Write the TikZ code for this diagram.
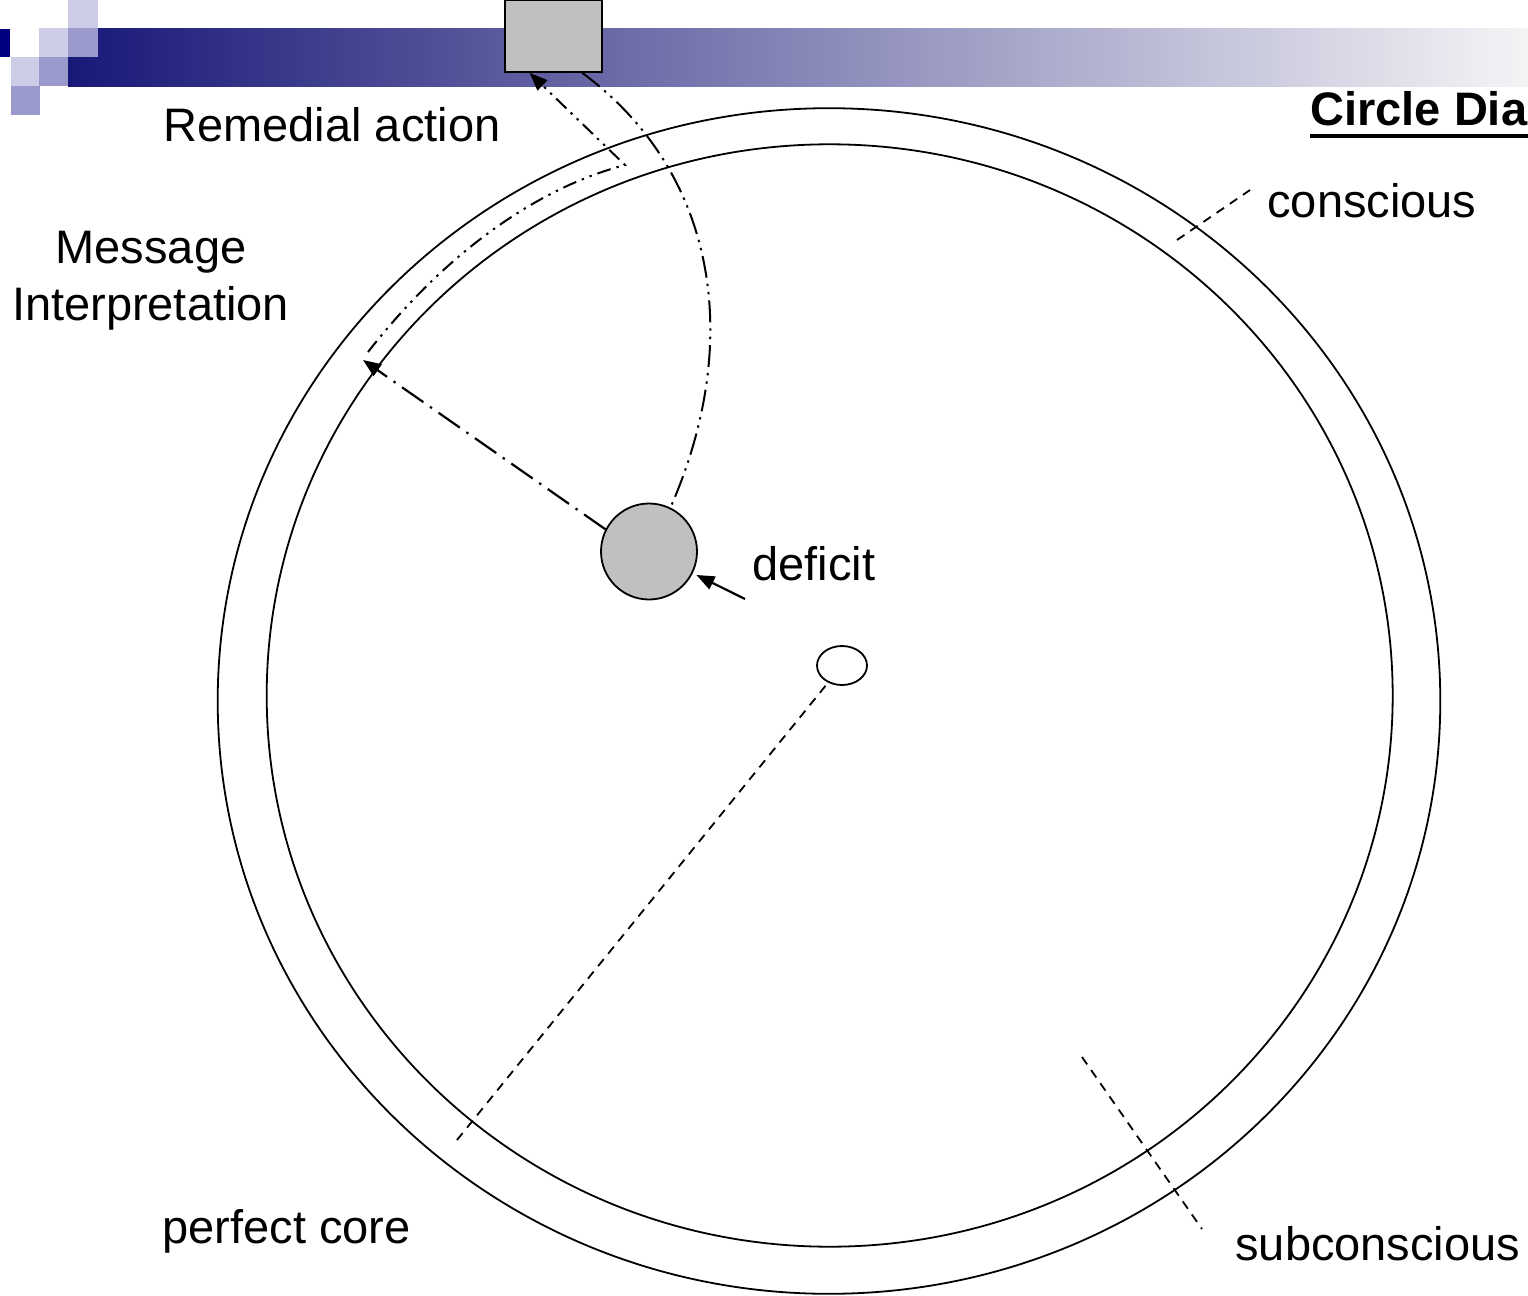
\documentclass[tikz,border=0pt]{standalone}
\usepackage{fontspec}
\setmainfont{Liberation Sans}
\usetikzlibrary{shapes.geometric,arrows.meta}
\definecolor{boxgray}{RGB}{192,192,192}
\definecolor{sqlight}{RGB}{204,204,230}
\definecolor{sqmed}{RGB}{153,153,204}
\definecolor{navyblk}{RGB}{0,0,128}
\definecolor{bandstart}{RGB}{24,24,120}
\definecolor{bandmid}{RGB}{165,165,182}
\definecolor{bandend}{RGB}{244,244,246}
\begin{document}
\begin{tikzpicture}[x=0.5pt,y=-0.5pt,
  font=\fontsize{23.5pt}{28pt}\selectfont,
  ring/.style={draw, ellipse, line width=0.9pt, inner sep=0pt},
  label/.style={inner sep=0pt, anchor=base west},
  leader/.style={line width=0.9pt, dash pattern=on 4.5pt off 3.5pt},
  ddash/.style={line width=1.1pt, dash pattern=on 13pt off 4pt on 1.2pt off 4pt},
  dddash/.style={line width=1pt, dash pattern=on 7pt off 3pt on 1.2pt off 3pt on 1.2pt off 3pt},
  dddlong/.style={line width=1pt, dash pattern=on 11pt off 3pt on 1.2pt off 3pt on 1.2pt off 3pt},
  tip/.style={-{Triangle[length=9pt,width=7pt]}}
]
\useasboundingbox (0,0) rectangle (1528,1296);
\clip (0,0) rectangle (1528,1296);
\fill[white] (0,0) rectangle (1528,1296);

% header band and squares
\shade[left color=bandstart, middle color=bandmid, right color=bandend] (68,28) rectangle (1528,86);
\fill[sqlight] (68,0) rectangle (98,28);
\fill[sqlight] (39,28) rectangle (68,57);
\fill[sqmed] (68,28) rectangle (98,57);
\fill[navyblk] (0,29) rectangle (10,57);
\fill[sqlight] (11,57) rectangle (39,86);
\fill[sqmed] (39,57) rectangle (68,86);
\fill[sqmed] (11,86) rectangle (40,115);

% rings
\node[ring, minimum width=611.3pt, minimum height=592.8pt] (outer) at (829,701) {};
\node[ring, minimum width=563pt, minimum height=551.2pt] (inner) at (829.7,695.5) {};

% deficit, core, box
\node[draw, circle, fill=boxgray, line width=0.9pt, minimum size=48pt, inner sep=0pt] (def) at (649,551.5) {};
\node[draw, ellipse, fill=white, line width=0.9pt, minimum width=25pt, minimum height=19.5pt, inner sep=0pt] (core) at (842,665.5) {};
\node[draw, rectangle, fill=boxgray, line width=0.9pt, minimum width=48.5pt, minimum height=36pt, inner sep=0pt] (box) at (553.5,36) {};

% texts
\node[label] (remedial) at (163,141) {Remedial action};
\node[inner sep=0pt, anchor=base] (msg1) at (151,263) {Message};
\node[inner sep=0pt, anchor=base] (msg2) at (150.5,320) {Interpretation};
\node[label] (deficit) at (752,580) {deficit};
\node[label] (conscious) at (1267,217) {conscious};
\node[label, font=\fontsize{23.5pt}{28pt}\selectfont\bfseries] (title) at (1310,125) {Circle Dia};
\node[label] (subcon) at (1235,1260) {subconscious};
\node[label] (perfect) at (162,1243) {perfect core};

% coordinates
\coordinate (ul1) at (1310,136);
\coordinate (ul2) at (1528,136);
\coordinate (dtail) at (745,599);
\coordinate (msgend) at (363,360);
\coordinate (p2start) at (368,352);
\coordinate (p2corner) at (625,165);
\coordinate (cs1) at (1177,240);
\coordinate (cs2) at (1250,190);
\coordinate (sc1) at (1082,1057);
\coordinate (sc2) at (1202,1229);
\coordinate (pcend) at (457,1140);

\draw[line width=1.6pt] (ul1) -- (ul2);

% connectors
\draw[line width=1.1pt, tip, shorten >=2pt] (dtail) -- (def);
\draw[ddash, tip] (def.153) -- (msgend);
\draw[dddash, tip] (p2start) .. controls (440,260) and (530,190) .. (p2corner) -- (box.-123);
\draw[dddlong] (box.-52) .. controls (720,175) and (742,345) .. (def.64);

% leaders
\draw[leader] (cs1) -- (cs2);
\draw[leader] (sc1) -- (sc2);
\draw[leader, shorten <=2pt] (core) -- (pcend);
\end{tikzpicture}
\end{document}
